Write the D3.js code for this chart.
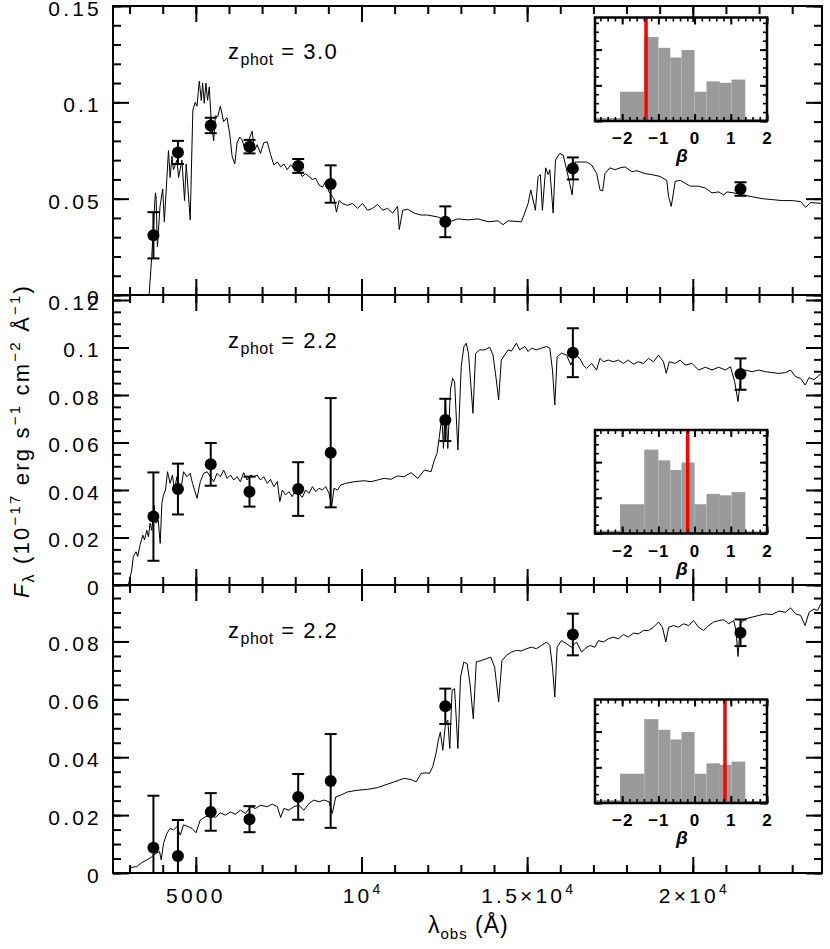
<!DOCTYPE html>
<html>
<head>
<meta charset="utf-8">
<script src="https://d3js.org/d3.v7.min.js"></script>
<style>
body{margin:0;background:#fff;}
svg{display:block;font-family:"Liberation Sans",Arial,sans-serif;}
</style>
</head>
<body>
<div id="chart"></div>
<script>
// photometric bands (observed wavelength, Angstrom)
const bandLam = [3720, 4460, 5450, 6620, 8090, 9070, 12530, 16380, 21440];

const flux1 = [0.031, 0.074, 0.088, 0.077, 0.067, 0.0576, 0.038, 0.0657, 0.055];
const err1  = [0.012, 0.006, 0.004, 0.0035, 0.0036, 0.0097, 0.008, 0.0057, 0.0035];
const flux2 = [0.0288, 0.0404, 0.0508, 0.0393, 0.0404, 0.0557, 0.0695, 0.0978, 0.0888];
const err2  = [0.0186, 0.0107, 0.009, 0.0063, 0.0113, 0.023, 0.0089, 0.0103, 0.0066];
const flux3 = [0.0087, 0.0059, 0.0211, 0.0186, 0.0263, 0.0318, 0.0576, 0.0824, 0.083];
const err3  = [0.018, 0.0124, 0.0065, 0.0045, 0.0079, 0.0162, 0.0061, 0.0072, 0.0046];

// best-fit template spectra [lambda, flux]
const spec1 = [[3590,0],[3670,0.020],[3740,0.042],[3780,0.053],[3800,0.051],[3840,0.025],[3920,0.046],[4000,0.055],[4050,0.038],[4175,0.075],[4225,0.061],[4280,0.072],[4325,0.065],[4430,0.070],[4480,0.061],[4580,0.070],[4660,0.049],[4710,0.068],[4830,0.039],[4910,0.096],[4980,0.100],[5035,0.098],[5105,0.111],[5165,0.101],[5205,0.110],[5255,0.0995],[5305,0.110],[5355,0.101],[5405,0.108],[5470,0.089],[5540,0.080],[5590,0.093],[5660,0.0925],[5740,0.098],[5840,0.090],[5940,0.092],[6020,0.084],[6095,0.072],[6175,0.068],[6245,0.079],[6325,0.082],[6395,0.0805],[6500,0.075],[6600,0.0805],[6700,0.085],[6770,0.075],[6850,0.078],[6950,0.0735],[7050,0.079],[7155,0.0795],[7255,0.073],[7355,0.0675],[7460,0.069],[7560,0.0665],[7660,0.068],[7760,0.065],[7860,0.0675],[7960,0.066],[8110,0.065],[8215,0.0615],[8315,0.063],[8415,0.0615],[8520,0.060],[8620,0.0605],[8720,0.057],[8820,0.056],[8920,0.059],[9020,0.0535],[9170,0.050],[9245,0.043],[9325,0.049],[9425,0.0475],[9575,0.0465],[9730,0.0475],[9880,0.045],[10030,0.0475],[10185,0.044],[10335,0.045],[10485,0.047],[10640,0.044],[10790,0.045],[10940,0.0425],[11090,0.046],[11140,0.034],[11245,0.044],[11395,0.0445],[11595,0.0425],[11800,0.0415],[12000,0.0415],[12300,0.0405],[12655,0.038],[12910,0.0395],[13215,0.039],[13515,0.0395],[13820,0.038],[14120,0.0385],[14270,0.0365],[14425,0.0385],[14825,0.038],[14905,0.0415],[15030,0.0475],[15110,0.0545],[15250,0.044],[15330,0.0615],[15400,0.0625],[15460,0.044],[15560,0.066],[15635,0.0625],[15685,0.065],[15785,0.0425],[15855,0.070],[15985,0.0735],[16090,0.0725],[16240,0.0615],[16360,0.052],[16440,0.069],[16645,0.069],[16795,0.069],[16945,0.0675],[17100,0.063],[17200,0.0545],[17280,0.054],[17350,0.063],[17500,0.066],[17655,0.065],[17805,0.066],[17955,0.0665],[18160,0.064],[18310,0.0645],[18560,0.063],[18765,0.0625],[19015,0.0615],[19215,0.0595],[19270,0.051],[19350,0.046],[19470,0.059],[19620,0.0595],[19770,0.058],[19925,0.0565],[20175,0.0565],[20380,0.0555],[20580,0.053],[20780,0.0535],[20935,0.052],[21035,0.0535],[21235,0.053],[21490,0.052],[21790,0.051],[22095,0.050],[22400,0.0495],[22700,0.049],[23000,0.049],[23255,0.0485],[23405,0.0455],[23560,0.048],[23900,0.0475]];

const spec2 = [[2965,0],[3065,0.0063],[3115,0.012],[3195,0.014],[3245,0.012],[3320,0.017],[3400,0.021],[3450,0.019],[3520,0.023],[3570,0.0203],[3620,0.026],[3670,0.023],[3740,0.0336],[3800,0.026],[3865,0.0273],[3925,0.0175],[3975,0.0344],[4025,0.038],[4085,0.040],[4145,0.0477],[4225,0.0428],[4295,0.0463],[4355,0.040],[4430,0.0456],[4530,0.0386],[4630,0.0477],[4730,0.0456],[4830,0.047],[4900,0.0428],[5035,0.0365],[5135,0.0435],[5235,0.047],[5340,0.0477],[5440,0.0456],[5540,0.0435],[5640,0.047],[5740,0.0456],[5840,0.0484],[5945,0.0449],[6045,0.0463],[6145,0.0442],[6245,0.0456],[6345,0.0435],[6445,0.0473],[6550,0.0442],[6650,0.0463],[6750,0.0456],[6850,0.0463],[6950,0.0442],[7050,0.0456],[7155,0.0428],[7255,0.0445],[7355,0.0414],[7460,0.0435],[7535,0.0351],[7610,0.040],[7710,0.0379],[7810,0.0393],[7910,0.0372],[8010,0.040],[8110,0.0386],[8215,0.0369],[8315,0.040],[8415,0.0386],[8520,0.0414],[8620,0.0393],[8720,0.0407],[8820,0.040],[8920,0.0414],[9020,0.0386],[9100,0.033],[9170,0.0407],[9275,0.040],[9375,0.0421],[9525,0.0428],[9780,0.0435],[10080,0.0439],[10285,0.0435],[10485,0.0442],[10685,0.0449],[10890,0.0445],[11090,0.0459],[11290,0.0456],[11495,0.0473],[11700,0.0449],[11900,0.0484],[12100,0.0477],[12200,0.0526],[12280,0.0554],[12350,0.0624],[12425,0.0709],[12475,0.0575],[12535,0.0779],[12605,0.0575],[12685,0.0821],[12750,0.087],[12810,0.0856],[12910,0.0568],[13010,0.0919],[13090,0.1003],[13160,0.1018],[13230,0.0975],[13365,0.0723],[13445,0.0975],[13565,0.099],[13715,0.099],[13870,0.1001],[13970,0.0968],[14070,0.0863],[14140,0.0779],[14220,0.0947],[14320,0.0968],[14425,0.099],[14525,0.0985],[14675,0.1018],[14775,0.099],[14930,0.1004],[15030,0.0983],[15130,0.0997],[15280,0.099],[15430,0.0997],[15585,0.1004],[15685,0.0997],[15765,0.0905],[15835,0.0758],[15905,0.0961],[16035,0.0976],[16190,0.0968],[16320,0.0926],[16440,0.0968],[16590,0.0954],[16695,0.0926],[16795,0.0912],[16945,0.0933],[17095,0.0905],[17200,0.0954],[17300,0.094],[17450,0.0947],[17605,0.094],[17755,0.0947],[17905,0.0933],[18055,0.0947],[18210,0.093],[18360,0.094],[18510,0.0933],[18665,0.0954],[18815,0.094],[18965,0.0968],[19115,0.094],[19200,0.0891],[19290,0.094],[19470,0.0933],[19620,0.0947],[19770,0.0926],[19975,0.0933],[20175,0.0905],[20380,0.0917],[20580,0.0905],[20780,0.0917],[20985,0.0905],[21135,0.0919],[21265,0.0856],[21365,0.0772],[21465,0.0898],[21590,0.0905],[21790,0.0898],[21995,0.0905],[22195,0.0898],[22395,0.0894],[22600,0.0891],[22800,0.0894],[22950,0.0905],[23105,0.0877],[23255,0.087],[23390,0.0842],[23510,0.0873],[23660,0.0865],[23900,0.0893]];

const spec3 = [[2995,0.001],[3065,0.002],[3215,0.0022],[3370,0.0036],[3520,0.0045],[3670,0.0056],[3800,0.0068],[3905,0.0074],[3955,0.0045],[4025,0.0102],[4125,0.0137],[4225,0.0154],[4325,0.0149],[4430,0.016],[4530,0.0131],[4630,0.0166],[4780,0.016],[4885,0.0154],[5005,0.0139],[5135,0.0183],[5285,0.0194],[5440,0.020],[5590,0.0192],[5740,0.0208],[5890,0.020],[6045,0.0211],[6195,0.0203],[6345,0.0217],[6500,0.0206],[6650,0.0229],[6800,0.0223],[6950,0.0234],[7155,0.0229],[7305,0.0238],[7460,0.0229],[7560,0.0192],[7660,0.0223],[7810,0.0217],[7960,0.0229],[8110,0.0234],[8265,0.0217],[8415,0.024],[8565,0.0252],[8720,0.0246],[8870,0.0252],[9020,0.0246],[9120,0.0206],[9225,0.0263],[9375,0.0269],[9575,0.028],[9880,0.0286],[10185,0.0289],[10485,0.0295],[10790,0.0307],[10990,0.0315],[11140,0.0321],[11290,0.0327],[11495,0.0323],[11650,0.0315],[11800,0.0344],[11950,0.0346],[12050,0.0344],[12150,0.0367],[12250,0.0413],[12320,0.0459],[12380,0.0487],[12455,0.0424],[12535,0.0516],[12605,0.0528],[12665,0.043],[12735,0.0631],[12810,0.0637],[12910,0.043],[12990,0.0677],[13090,0.0729],[13190,0.0723],[13275,0.0654],[13375,0.0533],[13465,0.0729],[13615,0.0734],[13765,0.074],[13900,0.0746],[14020,0.0711],[14140,0.0591],[14240,0.0734],[14375,0.0752],[14525,0.0763],[14675,0.0769],[14825,0.0767],[14980,0.0775],[15130,0.078],[15280,0.0775],[15430,0.0786],[15585,0.0798],[15685,0.0786],[15765,0.0711],[15835,0.0608],[15905,0.078],[16035,0.0803],[16190,0.0792],[16340,0.078],[16490,0.0798],[16645,0.0763],[16745,0.0775],[16895,0.0786],[17045,0.078],[17150,0.0803],[17300,0.0798],[17450,0.0809],[17605,0.0815],[17755,0.0809],[17905,0.0824],[18055,0.0815],[18210,0.0829],[18360,0.0826],[18510,0.0838],[18665,0.0838],[18815,0.0849],[18965,0.0867],[19085,0.0849],[19185,0.0798],[19270,0.0849],[19420,0.0855],[19570,0.0849],[19720,0.0861],[19875,0.0855],[20025,0.0872],[20175,0.0849],[20325,0.0838],[20480,0.0855],[20630,0.0867],[20780,0.0872],[20935,0.0875],[21085,0.0861],[21235,0.0872],[21305,0.0838],[21365,0.0748],[21435,0.0861],[21590,0.0878],[21790,0.0884],[21995,0.089],[22195,0.0895],[22395,0.0893],[22600,0.0905],[22800,0.0901],[22950,0.0916],[23105,0.0895],[23255,0.089],[23390,0.0855],[23510,0.0901],[23660,0.0912],[23760,0.0907],[23900,0.0936]];

// beta histogram (same in every inset)
const betaEdges   = [-2.75, -2.06, -1.39, -1.0, -0.67, -0.36, 0.0, 0.33, 0.70, 1.02, 1.40, 2.0];
const betaHeights = [0.008, 0.082, 0.235, 0.205, 0.178, 0.199, 0.082, 0.111, 0.107, 0.116, 0.006];
const betaBest    = [-1.34, -0.19, 0.84];

const zLabels = ["3.0", "2.2", "2.2"];
const yTicks1 = [0, 0.05, 0.1, 0.15];
const yTicks2 = [0, 0.02, 0.04, 0.06, 0.08, 0.1, 0.12];
const yTicks3 = [0, 0.02, 0.04, 0.06, 0.08];
const xTickVals = [5000, 10000, 15000, 20000];
const xTickText = [["5000",""], ["10","4"], ["1.5\u00d710","4"], ["2\u00d710","4"]];
const betaTicks = [-2, -1, 0, 1, 2];

const W = 830, H = 949;
const L = 113, R = 822;
const panels = [
  {top: 6,   bottom: 295, ymax: 0.15,   minor: 0.01,  ticks: yTicks1, flux: flux1, err: err1, spec: spec1, inTop: 17.5},
  {top: 295, bottom: 585, ymax: 0.1221, minor: 0.005, ticks: yTicks2, flux: flux2, err: err2, spec: spec2, inTop: 430},
  {top: 585, bottom: 873, ymax: 0.0995, minor: 0.005, ticks: yTicks3, flux: flux3, err: err3, spec: spec3, inTop: 699.5}
];

const svg = d3.select('#chart').append('svg')
  .attr('width', W).attr('height', H);

const x = d3.scaleLinear().domain([2500, 23900]).range([L, R]);
const fmt = d3.format('~g');

function styleAxis(g, sw){
  g.select('.domain').remove();
  g.selectAll('.tick line').attr('stroke', '#000').attr('stroke-width', sw);
}

panels.forEach((p, i) => {
  const y = d3.scaleLinear().domain([0, p.ymax]).range([p.bottom, p.top]);
  const g = svg.append('g');

  const clipId = 'clip' + i;
  svg.append('clipPath').attr('id', clipId)
    .append('rect').attr('x', L).attr('y', p.top).attr('width', R - L).attr('height', p.bottom - p.top);

  const plot = g.append('g').attr('clip-path', `url(#${clipId})`);

  plot.append('path')
    .datum(p.spec)
    .attr('d', d3.line().x(d => x(d[0])).y(d => y(d[1])))
    .attr('fill', 'none')
    .attr('stroke', '#000')
    .attr('stroke-width', 1);

  const pts = bandLam.map((l, k) => ({l, f: p.flux[k], e: p.err[k]}));
  const eb = plot.selectAll('g.eb').data(pts).enter().append('g').attr('class', 'eb')
    .attr('stroke', '#000').attr('stroke-width', 2);
  eb.append('line')
    .attr('x1', d => x(d.l)).attr('x2', d => x(d.l))
    .attr('y1', d => y(d.f - d.e)).attr('y2', d => y(d.f + d.e));
  eb.append('line')
    .attr('x1', d => x(d.l) - 6).attr('x2', d => x(d.l) + 6)
    .attr('y1', d => y(d.f + d.e)).attr('y2', d => y(d.f + d.e));
  eb.append('line')
    .attr('x1', d => x(d.l) - 6).attr('x2', d => x(d.l) + 6)
    .attr('y1', d => y(d.f - d.e)).attr('y2', d => y(d.f - d.e));
  plot.selectAll('circle').data(pts).enter().append('circle')
    .attr('cx', d => x(d.l)).attr('cy', d => y(d.f)).attr('r', 6)
    .attr('fill', '#000');

  // axes, ticks pointing inward
  const minorY = d3.range(0, p.ymax + 1e-9, p.minor);
  const minorX = d3.range(3000, 23901, 1000);
  g.append('g').attr('transform', `translate(${L},0)`)
    .call(d3.axisLeft(y).tickValues(p.ticks).tickSize(-16).tickPadding(11).tickFormat(fmt))
    .call(a => styleAxis(a, 2))
    .call(a => a.selectAll('text').attr('font-size', 21).attr('letter-spacing', 3.2)
      .attr('font-family', '"Liberation Sans",Arial,sans-serif').attr('fill', '#000').attr('dy', '0.45em'));
  g.append('g').attr('transform', `translate(${L},0)`)
    .call(d3.axisLeft(y).tickValues(minorY).tickSize(-8).tickFormat(''))
    .call(a => styleAxis(a, 2));
  g.append('g').attr('transform', `translate(${R},0)`)
    .call(d3.axisRight(y).tickValues(p.ticks).tickSize(-16).tickFormat(''))
    .call(a => styleAxis(a, 2));
  g.append('g').attr('transform', `translate(${R},0)`)
    .call(d3.axisRight(y).tickValues(minorY).tickSize(-8).tickFormat(''))
    .call(a => styleAxis(a, 2));
  g.append('g').attr('transform', `translate(0,${p.bottom})`)
    .call(d3.axisBottom(x).tickValues(xTickVals).tickSize(-16).tickFormat(''))
    .call(a => styleAxis(a, 2));
  g.append('g').attr('transform', `translate(0,${p.bottom})`)
    .call(d3.axisBottom(x).tickValues(minorX).tickSize(-8).tickFormat(''))
    .call(a => styleAxis(a, 2));
  g.append('g').attr('transform', `translate(0,${p.top})`)
    .call(d3.axisTop(x).tickValues(xTickVals).tickSize(-16).tickFormat(''))
    .call(a => styleAxis(a, 2));
  g.append('g').attr('transform', `translate(0,${p.top})`)
    .call(d3.axisTop(x).tickValues(minorX).tickSize(-8).tickFormat(''))
    .call(a => styleAxis(a, 2));

  g.append('rect')
    .attr('x', L).attr('y', p.top).attr('width', R - L).attr('height', p.bottom - p.top)
    .attr('fill', 'none').attr('stroke', '#000').attr('stroke-width', 2);

  // redshift label
  const zt = g.append('text').attr('x', 228).attr('y', p.top + 53)
    .attr('font-size', 22).attr('letter-spacing', 1.5);
  zt.append('tspan').text('z');
  zt.append('tspan').attr('font-size', 16).attr('dy', 6).attr('letter-spacing', 0.5).text('phot');
  zt.append('tspan').attr('dy', -6).text(' = ' + zLabels[i]);

  // inset beta histogram
  const ix0 = 595, ix1 = 767, iy0 = p.inTop, iy1 = p.inTop + 103.5;
  const bx = d3.scaleLinear().domain([-2.75, 2.0]).range([ix0, ix1]);
  const by = d3.scaleLinear().domain([0, 0.29]).range([iy1, iy0]);
  const ins = g.append('g');
  ins.selectAll('rect.bar').data(betaHeights).enter().append('rect')
    .attr('class', 'bar')
    .attr('x', (d, k) => bx(betaEdges[k]))
    .attr('width', (d, k) => bx(betaEdges[k + 1]) - bx(betaEdges[k]))
    .attr('y', d => by(d))
    .attr('height', d => iy1 - by(d))
    .attr('fill', '#9a9a9a');
  ins.append('line')
    .attr('x1', bx(betaBest[i])).attr('x2', bx(betaBest[i]))
    .attr('y1', iy0).attr('y2', iy1)
    .attr('stroke', '#ff0000').attr('stroke-width', 3.5);

  const bMinor = d3.range(-2.6, 2.001, 0.2);
  const yMinorB = d3.range(0, 0.2901, 0.025);
  const yMajorB = [0, 0.1, 0.2];
  ins.append('g').attr('transform', `translate(0,${iy1})`)
    .call(d3.axisBottom(bx).tickValues(betaTicks).tickSize(-7).tickPadding(11).tickFormat(fmt))
    .call(a => styleAxis(a, 2))
    .call(a => a.selectAll('text').attr('font-size', 17).attr('font-weight', 'bold').attr('letter-spacing', 1)
      .attr('font-family', '"Liberation Sans",Arial,sans-serif').attr('fill', '#000'));
  ins.append('g').attr('transform', `translate(0,${iy1})`)
    .call(d3.axisBottom(bx).tickValues(bMinor).tickSize(-4).tickFormat(''))
    .call(a => styleAxis(a, 1.6));
  ins.append('g').attr('transform', `translate(0,${iy0})`)
    .call(d3.axisTop(bx).tickValues(betaTicks).tickSize(-7).tickFormat(''))
    .call(a => styleAxis(a, 2));
  ins.append('g').attr('transform', `translate(0,${iy0})`)
    .call(d3.axisTop(bx).tickValues(bMinor).tickSize(-4).tickFormat(''))
    .call(a => styleAxis(a, 1.6));
  ins.append('g').attr('transform', `translate(${ix0},0)`)
    .call(d3.axisLeft(by).tickValues(yMajorB).tickSize(-7).tickFormat(''))
    .call(a => styleAxis(a, 2));
  ins.append('g').attr('transform', `translate(${ix0},0)`)
    .call(d3.axisLeft(by).tickValues(yMinorB).tickSize(-4).tickFormat(''))
    .call(a => styleAxis(a, 1.6));
  ins.append('g').attr('transform', `translate(${ix1},0)`)
    .call(d3.axisRight(by).tickValues(yMajorB).tickSize(-7).tickFormat(''))
    .call(a => styleAxis(a, 2));
  ins.append('g').attr('transform', `translate(${ix1},0)`)
    .call(d3.axisRight(by).tickValues(yMinorB).tickSize(-4).tickFormat(''))
    .call(a => styleAxis(a, 1.6));
  ins.append('rect')
    .attr('x', ix0).attr('y', iy0).attr('width', ix1 - ix0).attr('height', iy1 - iy0)
    .attr('fill', 'none').attr('stroke', '#000').attr('stroke-width', 2.5);
  ins.append('text')
    .attr('x', 682).attr('y', iy1 + 41)
    .attr('text-anchor', 'middle')
    .attr('font-size', 19).attr('font-weight', 'bold').attr('font-style', 'italic')
    .text('\u03b2');

  // bottom x labels on last panel
  if (i === panels.length - 1) {
    const lab = g.selectAll('text.xl').data(xTickVals).enter().append('text')
      .attr('class', 'xl')
      .attr('x', d => x(d)).attr('y', p.bottom + 30)
      .attr('text-anchor', 'middle')
      .attr('font-size', 21).attr('letter-spacing', 3.2);
    lab.append('tspan').text((d, k) => xTickText[k][0]);
    lab.append('tspan').attr('dy', -9).attr('font-size', 14).attr('letter-spacing', 0).text((d, k) => xTickText[k][1]);
  }
});

// axis titles
const xt = svg.append('text').attr('x', 428).attr('y', 933).attr('font-size', 23).attr('letter-spacing', 1);
xt.append('tspan').text('\u03bb');
xt.append('tspan').attr('font-size', 15).attr('dy', 6).text('obs');
xt.append('tspan').attr('dy', -6).text(' (\u00c5)');

const yt = svg.append('text')
  .attr('transform', 'translate(29,441) rotate(-90)')
  .attr('text-anchor', 'middle')
  .attr('font-size', 22).attr('letter-spacing', 2.2);
yt.append('tspan').attr('font-style', 'italic').text('F');
yt.append('tspan').attr('font-size', 16).attr('dy', 5).text('\u03bb');
yt.append('tspan').attr('dy', -5).text('  (10');
yt.append('tspan').attr('font-size', 15).attr('dy', -9).text('\u221217');
yt.append('tspan').attr('dy', 9).text(' erg s');
yt.append('tspan').attr('font-size', 15).attr('dy', -9).text('\u22121');
yt.append('tspan').attr('dy', 9).text(' cm');
yt.append('tspan').attr('font-size', 15).attr('dy', -9).text('\u22122');
yt.append('tspan').attr('dy', 9).text(' \u00c5');
yt.append('tspan').attr('font-size', 15).attr('dy', -9).text('\u22121');
yt.append('tspan').attr('dy', 9).text(')');
</script>
</body>
</html>
